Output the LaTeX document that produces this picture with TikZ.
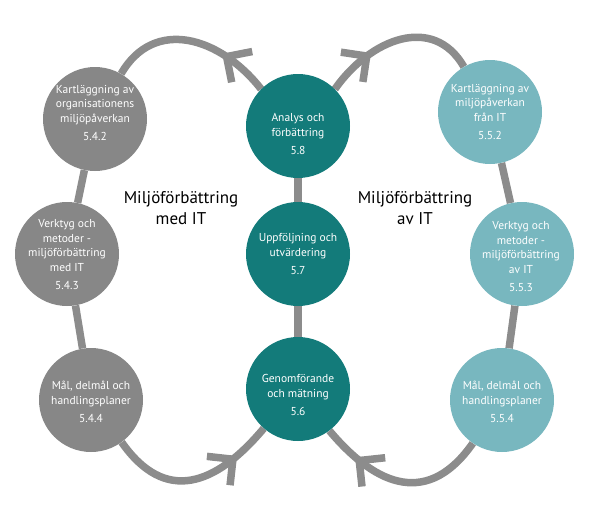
\documentclass[tikz,border=0pt]{standalone}
\usepackage{fontspec}
\setmainfont{PT Sans}
\usetikzlibrary{decorations.markings,backgrounds}
\definecolor{cgray}{RGB}{135,135,135}
\definecolor{cline}{RGB}{140,140,140}
\definecolor{cteal}{RGB}{19,123,122}
\definecolor{clight}{RGB}{120,183,191}
\tikzset{
  circ/.style={circle, minimum size=104pt, inner sep=0pt},
  grayc/.style={circ, fill=cgray},
  tealc/.style={circ, fill=cteal},
  lightc/.style={circ, fill=clight},
  ctext/.style={text=white, align=center, inner sep=0pt, font=\fontsize{11.5}{14.5}\selectfont},
  ttext/.style={align=center, inner sep=0pt, font=\fontsize{17}{21}\selectfont},
  conn/.style={draw=cline, line width=7.5pt},
  chev/.style={postaction={decorate}, decoration={markings, mark=at position #1 with {\draw[draw=cline, line width=7.5pt, line join=miter] (-18.5pt,18.5pt) -- (0pt,0pt) -- (-18.5pt,-18.5pt);}}}
}
\begin{document}
\begin{tikzpicture}[x=1pt,y=1pt]
\useasboundingbox (0,0) rectangle (595,-514);
% circles
\node[grayc] (k542) at (95,-119) {};
\node[grayc] (v543) at (67,-254) {};
\node[grayc] (m544) at (91,-400) {};
\node[tealc] (a58) at (298,-126) {};
\node[tealc] (u57) at (298,-254) {};
\node[tealc] (g56) at (298,-389) {};
\node[lightc] (k552) at (490,-112) {};
\node[lightc] (v553) at (522,-254) {};
\node[lightc] (m554) at (502,-400) {};
% texts
\node[ctext] (k542t) at (95,-113) {Kartläggning av\\organisationens\\miljöpåverkan\\[4pt]5.4.2};
\node[ctext] (v543t) at (67,-255) {Verktyg och\\metoder -\\miljöförbättring\\med IT\\[4pt]5.4.3};
\node[ctext] (m544t) at (91,-402) {Mål, delmål och\\handlingsplaner\\[4pt]5.4.4};
\node[ctext] (a58t) at (298,-134) {Analys och\\förbättring\\[4pt]5.8};
\node[ctext] (u57t) at (298,-254) {Uppföljning och\\utvärdering\\[4pt]5.7};
\node[ctext] (g56t) at (298,-395) {Genomförande\\och mätning\\[4pt]5.6};
\node[ctext] (k552t) at (490,-112) {Kartläggning av\\miljöpåverkan\\från IT\\[4pt]5.5.2};
\node[ctext] (v553t) at (521,-257) {Verktyg och\\metoder -\\miljöförbättring\\av IT\\[4pt]5.5.3};
\node[ctext] (m554t) at (502,-402) {Mål, delmål och\\handlingsplaner\\[4pt]5.5.4};
% titles
\node[ttext] (tl) at (181,-208) {Miljöförbättring\\med IT};
\node[ttext] (tr) at (415,-208) {Miljöförbättring\\av IT};
% connectors
\begin{scope}[on background layer]
\draw[conn] (k542) -- (v543);
\draw[conn] (v543) -- (m544);
\draw[conn] (a58) -- (u57);
\draw[conn] (u57) -- (g56);
\draw[conn] (k552) -- (v553);
\draw[conn] (v553) -- (m554);
\draw[conn, chev=0.28] (a58.135) to[out=128, in=60, looseness=1.2] (k542.60);
\draw[conn, chev=0.29] (a58.45) to[out=55, in=120, looseness=1.2] (k552.120);
\draw[conn, chev=0.75] (m544.-54) to[out=-55, in=-130, looseness=1.35] (g56.-131);
\draw[conn, chev=0.76] (m554.-124) to[out=-125, in=-50, looseness=1.35] (g56.-53);
\end{scope}
\end{tikzpicture}
\end{document}
